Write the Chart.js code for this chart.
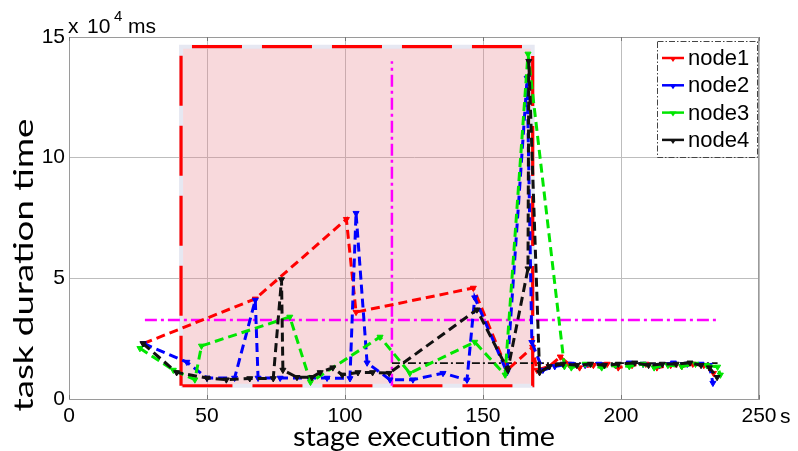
<!DOCTYPE html>
<html>
<head>
<meta charset="utf-8">
<script src="https://cdn.jsdelivr.net/npm/chart.js@4.4.1/dist/chart.umd.min.js"></script>
<style>
html,body{margin:0;padding:0;background:#fff;}
#wrap{width:798px;height:451px;position:relative;}
</style>
</head>
<body>
<div id="wrap"><canvas id="c" width="798" height="451"></canvas></div>
<script>
// ---- data ----
const seriesNames = ['node1','node2','node3','node4'];
const seriesColors = ['#ff0000','#0000ff','#00e600','#111111'];
const xTickValues = [0,50,100,150,200,250];
const yTickValues = [0,5,10,15];
const xUnit = 's';
const yScaleX = 'x';
const yScaleBase = '10';
const yScaleExp = '4';
const yUnit = 'ms';
const xTitle = 'stage execution time';
const yTitle = 'task duration time';

const node1X = [27,67.5,100.5,104,146.5,158.8,168,169.5,174,178,181,185,190,195,199,204,209,213,218,222,226,230,233.5];
const node1Y = [2.3,4.15,7.45,3.6,4.6,1.2,2.15,1.2,1.35,1.75,1.45,1.3,1.4,1.45,1.3,1.4,1.45,1.3,1.4,1.35,1.45,1.4,1.07];

const node2X = [27,42.7,50,60,67.5,68.5,76.5,93.5,101.8,104,108,116.3,124.6,135.5,144.2,147,158.7,166,167.7,171.7,176,182,187,192,198,203,208,214,219,224,229,232,233.3];
const node2Y = [2.3,1.53,0.87,0.87,4.1,0.87,0.87,0.87,0.85,7.7,1.5,0.8,0.8,1.07,0.79,4.2,1.1,13.3,2.35,1.2,1.35,1.45,1.4,1.45,1.4,1.5,1.45,1.4,1.5,1.45,1.45,1.4,0.66];

const node3X = [25.7,37.8,45.6,48,80,87.5,112.7,123.5,147,158,166.3,179.5,182,187,193,198,203,208,212,217,222,227,231,235,236];
const node3Y = [2.1,1.2,0.8,2.2,3.4,0.7,2.57,1.07,2.36,1.0,14.3,1.35,1.3,1.45,1.3,1.4,1.35,1.45,1.3,1.4,1.35,1.45,1.4,1.33,1.0];

const node4X = [26.8,39,50,57,65.5,74,77,77.5,82.6,88,91,95.6,99,104.7,110,116,147.8,159,166.3,166.6,170.5,174,179,184,189,194,199,205,210,215,220,225,229,232,234.8];
const node4Y = [2.3,1.1,0.87,0.8,0.85,0.85,4.95,1.2,0.9,0.9,1.1,1.3,1.0,1.1,1.1,1.07,3.7,1.2,5.4,14.0,1.1,1.35,1.45,1.4,1.45,1.4,1.45,1.5,1.4,1.45,1.45,1.5,1.4,1.3,0.9];

// highlighted window (rectangle) and reference lines
const rectX = [40.6,168];
const rectY = [0.55,14.6];
const meanLineX = [27.5,235];
const meanLineY = 3.27;
const splitLineX = 117;
const splitLineY = [0.55,14.0];
const baseLineX = [117,235];
const baseLineY = 1.49;

function pts(xs, ys){ return xs.map((x,i)=>({x:x,y:ys[i]})); }

const seriesX = [node1X,node2X,node3X,node4X];
const seriesY = [node1Y,node2Y,node3Y,node4Y];

const rectPts = [
  {x:rectX[0],y:rectY[0]},{x:rectX[0],y:rectY[1]},
  {x:rectX[1],y:rectY[1]},{x:rectX[1],y:rectY[0]},{x:rectX[0],y:rectY[0]}
];

const datasets = [];
seriesNames.forEach((n,i)=>{
  datasets.push({
    label:n, data:pts(seriesX[i],seriesY[i]), showLine:true,
    borderColor:seriesColors[i], backgroundColor:seriesColors[i],
    borderWidth:3, borderDash:[9,5], pointStyle:'triangle', rotation:180,
    pointRadius:3.5, pointBorderWidth:1, order:4-i, isSeries:true
  });
});
datasets.push({label:'_rectFill', data:[{x:rectX[0],y:rectY[1]},{x:rectX[1],y:rectY[1]}], showLine:true,
  borderColor:'rgba(0,0,0,0)', borderWidth:0, pointRadius:0, fill:{value:rectY[0]},
  backgroundColor:'rgba(232,128,138,0.30)', order:22});
datasets.push({label:'_rectShadow', data:rectPts, showLine:true, borderColor:'#e6e8f2',
  borderWidth:4, pointRadius:0, fill:false, order:21});
datasets.push({label:'_rect', data:rectPts, showLine:true, borderColor:'#ff0000',
  borderWidth:3.2, borderDash:[50,20], pointRadius:0, fill:false, order:19});
datasets.push({label:'_mean', data:[{x:meanLineX[0],y:meanLineY},{x:meanLineX[1],y:meanLineY}], showLine:true,
  borderColor:'#ff00ff', borderWidth:2.5, borderDash:[12,4,3,4], pointRadius:0, fill:false, order:10});
datasets.push({label:'_split', data:[{x:splitLineX,y:splitLineY[0]},{x:splitLineX,y:splitLineY[1]}], showLine:true,
  borderColor:'#ff00ff', borderWidth:2.5, borderDash:[12,4,3,4], pointRadius:0, fill:false, order:10});
datasets.push({label:'_base', data:[{x:baseLineX[0],y:baseLineY},{x:baseLineX[1],y:baseLineY}], showLine:true,
  borderColor:'#111111', borderWidth:1.8, borderDash:[8,3,2,3], pointRadius:0, fill:false, order:9});

const tickFont = {family:'"Liberation Sans", Arial, sans-serif', size:21};

function stretchText(ctx, text, x, y, w, font, rot){
  ctx.save();
  ctx.font = font;
  const m = ctx.measureText(text).width;
  ctx.translate(x,y);
  if(rot) ctx.rotate(rot);
  ctx.scale(w/m,1);
  ctx.textAlign='center';
  ctx.textBaseline='alphabetic';
  ctx.fillStyle='#000';
  ctx.fillText(text,0,0);
  ctx.restore();
}

const decor = {
  id:'decor',
  afterDraw(chart){
    const ctx = chart.ctx, a = chart.chartArea;
    const xs = chart.scales.x, ys = chart.scales.y;
    ctx.save();
    // box
    ctx.strokeStyle='#9a9a9a'; ctx.lineWidth=1; ctx.setLineDash([]);
    ctx.strokeRect(a.left+0.5,a.top+0.5,a.right-a.left-1,a.bottom-a.top);
    // small inward ticks
    ctx.strokeStyle='#777';
    xTickValues.forEach(v=>{const px=Math.round(xs.getPixelForValue(v))+0.5;
      ctx.beginPath();ctx.moveTo(px,a.bottom);ctx.lineTo(px,a.bottom-4);ctx.moveTo(px,a.top);ctx.lineTo(px,a.top+4);ctx.stroke();});
    // axis titles
    stretchText(ctx, xTitle, 424, 446, 262, '26px Lato, "Open Sans", sans-serif', 0);
    stretchText(ctx, yTitle, 33, 265, 293, '26px Lato, "Open Sans", sans-serif', -Math.PI/2);
    // exponent text
    ctx.fillStyle='#000'; ctx.textAlign='left'; ctx.textBaseline='alphabetic';
    ctx.font='21px "Liberation Sans", Arial, sans-serif';
    ctx.fillText(yScaleX, 68, 33);
    ctx.fillText(yScaleBase, 87, 33);
    ctx.font='15px "Liberation Sans", Arial, sans-serif';
    ctx.fillText(yScaleExp, 114, 21);
    ctx.font='21px "Liberation Sans", Arial, sans-serif';
    ctx.fillText(yUnit, 128, 33);
    // x unit after last tick
    const lastPx = xs.getPixelForValue(xTickValues[xTickValues.length-1]);
    ctx.fillText(xUnit, lastPx+21, 423);
    // legend
    const lx=657, ly=41, lw=100, lh=116;
    ctx.fillStyle='#fff'; ctx.fillRect(lx,ly,lw,lh);
    ctx.strokeStyle='#444'; ctx.lineWidth=1; ctx.setLineDash([6,2,1.5,2]);
    ctx.strokeRect(lx+0.5,ly+0.5,lw,lh);
    ctx.setLineDash([]);
    chart.data.datasets.filter(d=>d.isSeries).forEach((d,i)=>{
      const cy = 58 + i*27.3;
      ctx.strokeStyle=d.borderColor; ctx.lineWidth=2.5;
      ctx.beginPath(); ctx.moveTo(662,cy); ctx.lineTo(684,cy); ctx.stroke();
      ctx.fillStyle=d.borderColor;
      ctx.beginPath(); ctx.moveTo(669.5,cy-1); ctx.lineTo(676.5,cy-1); ctx.lineTo(673,cy+4); ctx.closePath(); ctx.fill();
      ctx.fillStyle='#000'; ctx.font='22px "Liberation Sans", Arial, sans-serif';
      ctx.textBaseline='middle'; ctx.fillText(d.label, 688, cy+1);
      ctx.textBaseline='alphabetic';
    });
    ctx.restore();
  }
};

new Chart(document.getElementById('c'), {
  type:'scatter',
  data:{datasets:datasets},
  options:{
    responsive:false, animation:false, events:[],
    layout:{padding:{top:37,right:39,left:0,bottom:0}},
    plugins:{legend:{display:false}, tooltip:{enabled:false}},
    scales:{
      x:{type:'linear', min:0, max:250,
        afterBuildTicks(s){ s.ticks = xTickValues.map(v=>({value:v})); },
        afterFit(s){ s.height = 52; },
        ticks:{font:tickFont, color:'#000', padding:5, maxRotation:0, callback:(v)=>String(v)},
        grid:{color:'#bdbdbd', lineWidth:1, drawTicks:false},
        border:{display:true, color:'#9a9a9a'}},
      y:{type:'linear', min:0, max:15,
        afterBuildTicks(s){ s.ticks = yTickValues.map(v=>({value:v})); },
        afterFit(s){ s.width = 69; },
        ticks:{font:tickFont, color:'#000', padding:4, callback:(v)=>String(v)},
        grid:{color:'#bdbdbd', lineWidth:1, drawTicks:false},
        border:{display:true, color:'#9a9a9a'}}
    }
  },
  plugins:[decor]
});
</script>
</body>
</html>
